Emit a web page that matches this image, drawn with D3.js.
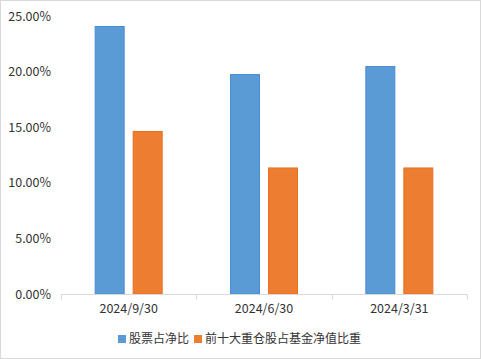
<!DOCTYPE html>
<html><head><meta charset="utf-8">
<script src="https://cdn.jsdelivr.net/npm/d3@7"></script>
<style>
html,body{margin:0;padding:0;background:#fff;}
svg{display:block;}
text{font-family:"Noto Sans CJK SC","Microsoft YaHei",sans-serif;}
</style></head>
<body>
<svg id="chart" width="481" height="359"></svg>
<script>
const categories = ["2024/9/30", "2024/6/30", "2024/3/31"];
const seriesNames = ["股票占净比", "前十大重仓股占基金净值比重"];
const stockRatio = [0.2410, 0.1978, 0.2050];
const top10Ratio = [0.1466, 0.1138, 0.1138];
const yTicks = [0, 0.05, 0.10, 0.15, 0.20, 0.25];
const colors = ["#5B9BD5", "#ED7D31"];
const strokes = ["#4A8BD6", "#E8701F"];

const svg = d3.select("#chart");
svg.append("rect").attr("x",0.5).attr("y",0.5).attr("width",480).attr("height",358)
  .attr("fill","#fff").attr("stroke","#d9d9d9");

const x0 = d3.scaleBand().domain(categories).range([61, 467]).paddingInner(0).paddingOuter(0);
const bw = x0.bandwidth();
const x1 = d3.scaleBand().domain(seriesNames).range([bw/2 - 34, bw/2 + 34]).paddingInner(8/38).paddingOuter(0);
const y = d3.scaleLinear().domain([0, 0.25]).range([294, 16]);

const seriesData = [stockRatio, top10Ratio];

// bars
seriesNames.forEach((s, si) => {
  svg.append("g").selectAll("rect").data(categories).join("rect")
    .attr("x", c => x0(c) + x1(s) + 0.5)
    .attr("y", (c, i) => y(seriesData[si][i]) + 0.5)
    .attr("width", x1.bandwidth() - 1)
    .attr("height", (c, i) => y(0) - y(seriesData[si][i]) - 0.5)
    .attr("fill", colors[si])
    .attr("stroke", strokes[si])
    .attr("stroke-width", 1);
});

// x axis
const xAxis = d3.axisBottom(x0).tickSize(0).tickPadding(10);
const gx = svg.append("g").attr("transform", "translate(0,294.5)").call(xAxis);
gx.select(".domain").attr("stroke", "#d9d9d9").attr("d", "M61,0H467");
gx.selectAll("text").attr("font-size", 12.5).attr("fill", "#333")
  .attr("font-family", '"Noto Sans CJK SC", sans-serif');
// category boundary ticks
const bounds = categories.map(c => x0(c)).concat([x0(categories[categories.length-1]) + bw]);
gx.selectAll(".bt").data(bounds).join("line").attr("class","bt")
  .attr("x1", d => Math.round(d)+0.5).attr("x2", d => Math.round(d)+0.5)
  .attr("y1", 0).attr("y2", 5).attr("stroke", "#d9d9d9");

// y axis labels
const gy = svg.append("g").attr("transform", "translate(61,0)")
  .call(d3.axisLeft(y).tickValues(yTicks).tickFormat(d3.format(".2%")).tickSize(0).tickPadding(10));
gy.select(".domain").remove();
gy.selectAll("text").attr("font-size", 12.5).attr("fill", "#333")
  .attr("font-family", '"Noto Sans CJK SC", sans-serif');

// legend
const legendX = [118, 194];
const lg = svg.append("g");
seriesNames.forEach((s, si) => {
  lg.append("rect").attr("x", legendX[si]).attr("y", 335).attr("width", 8).attr("height", 8)
    .attr("fill", colors[si]);
  lg.append("text").attr("x", legendX[si] + 11).attr("y", 339).attr("dy", "0.35em")
    .attr("font-size", 12).attr("fill", "#333").text(s);
});
</script>
</body></html>
